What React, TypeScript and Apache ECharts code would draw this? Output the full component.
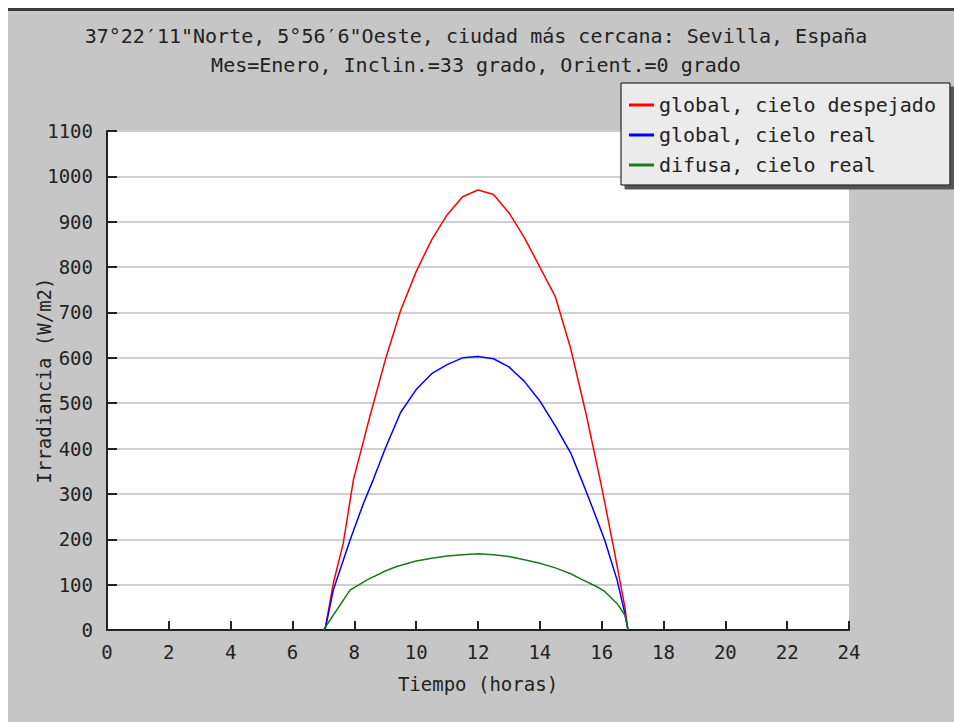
import React, { useEffect, useRef } from "react";
import * as echarts from "echarts";

const titleLines = [
  "37°22′11\"Norte, 5°56′6\"Oeste, ciudad más cercana: Sevilla, España",
  "Mes=Enero, Inclin.=33 grado, Orient.=0 grado",
];
const xAxisName = "Tiempo (horas)";
const yAxisName = "Irradiancia (W/m2)";

const seriesNames = ["global, cielo despejado", "global, cielo real", "difusa, cielo real"];
const seriesColors = ["#ff0000", "#0000ff", "#1a7a1a"];

const hoursClear = [7.05, 7.32, 7.64, 7.97, 8.5, 9, 9.5, 10, 10.5, 11, 11.5, 12, 12.5, 13, 13.5, 14, 14.5, 15, 15.5, 16, 16.38, 16.75, 16.85];
const globalClear = [0, 103, 191, 331, 470, 595, 705, 790, 860, 915, 955, 970, 960, 920, 865, 800, 735, 620, 475, 315, 184, 51, 0];

const hoursReal = [7.05, 7.32, 7.86, 8.3, 8.61, 9, 9.5, 10, 10.5, 11, 11.5, 12, 12.5, 13, 13.5, 14, 14.5, 15, 15.35, 15.7, 16.1, 16.5, 16.75, 16.85];
const globalReal = [0, 88, 198, 280, 331, 400, 480, 530, 565, 585, 600, 603, 598, 580, 548, 505, 450, 390, 331, 270, 198, 110, 37, 0];

const hoursDiffuse = [7.0, 7.86, 8.4, 9, 9.37, 10, 10.5, 11, 11.5, 12, 12.5, 13, 13.5, 14, 14.5, 15, 15.4, 15.8, 16.1, 16.5, 16.75, 16.86];
const diffuseReal = [0, 88, 110, 130, 140, 152, 158, 163, 166, 168, 166, 162, 155, 147, 137, 124, 110, 97, 85, 58, 33, 0];

const FONT = "'DejaVu Sans Mono', 'Liberation Mono', monospace";

export default function App() {
  const ref = useRef<HTMLDivElement>(null);
  useEffect(() => {
    if (!ref.current) return;
    const chart = echarts.init(ref.current, undefined, { renderer: "svg" });
    const xs = [hoursClear, hoursReal, hoursDiffuse];
    const ys = [globalClear, globalReal, diffuseReal];
    chart.setOption({
      animation: false,
      backgroundColor: "#c6c6c6",
      textStyle: { fontFamily: FONT },
      graphic: titleLines.map((t, i) => ({
        type: "text",
        x: 468,
        y: 25 + i * 29,
        style: {
          text: t,
          fontFamily: FONT,
          fontSize: 20,
          fill: "#222",
          textAlign: "center",
          textVerticalAlign: "middle",
        },
      })),
      grid: {
        left: 99,
        top: 120,
        width: 742,
        height: 499,
        outerBoundsMode: "none",
        containLabel: false,
        show: true,
        backgroundColor: "#ffffff",
        borderWidth: 0,
      },
      legend: {
        orient: "vertical",
        left: 613,
        top: 72,
        padding: [12, 14, 10, 8],
        itemGap: 10,
        itemWidth: 25,
        itemHeight: 3,
        icon: "rect",
        backgroundColor: "#ebebeb",
        borderColor: "#000",
        borderWidth: 1,
        shadowColor: "#555",
        shadowOffsetX: 4,
        shadowOffsetY: 4,
        shadowBlur: 0,
        textStyle: { fontFamily: FONT, fontSize: 20, color: "#222", lineHeight: 20 },
        data: seriesNames,
      },
      xAxis: {
        type: "value",
        min: 0,
        max: 24,
        interval: 2,
        name: xAxisName,
        nameLocation: "middle",
        nameGap: 44,
        nameMoveOverlap: false,
        nameTextStyle: { fontFamily: FONT, fontSize: 19, color: "#222" },
        axisLine: { show: true, lineStyle: { color: "#222", width: 2 } },
        axisTick: { show: true, inside: true, length: 9, lineStyle: { color: "#222", width: 2 } },
        axisLabel: { margin: 12, fontFamily: FONT, fontSize: 19, color: "#222", formatter: (v: number) => String(v) },
        splitLine: { show: false },
      },
      yAxis: {
        type: "value",
        min: 0,
        max: 1100,
        interval: 100,
        name: yAxisName,
        nameLocation: "middle",
        nameGap: 54,
        nameMoveOverlap: false,
        nameTextStyle: { fontFamily: FONT, fontSize: 19, color: "#222" },
        axisLine: { show: true, lineStyle: { color: "#222", width: 2 } },
        axisTick: { show: true, inside: true, length: 10, lineStyle: { color: "#222", width: 2 } },
        axisLabel: { margin: 14, fontFamily: FONT, fontSize: 19, color: "#222", formatter: (v: number) => String(v) },
        splitLine: { show: true, lineStyle: { color: "#cfcfcf", width: 2 } },
      },
      series: seriesNames.map((name, k) => ({
        name,
        type: "line",
        showSymbol: false,
        symbol: "none",
        smooth: false,
        color: seriesColors[k],
        lineStyle: { color: seriesColors[k], width: 1.5 },
        data: xs[k].map((h, i) => [h, ys[k][i]]),
      })),
    });
    return () => chart.dispose();
  }, []);
  return (
    <div
      style={{
        position: "fixed",
        left: 8,
        top: 8,
        width: 946,
        height: 714,
        boxSizing: "border-box",
        borderTop: "3px solid #3a3a3a",
        background: "#c6c6c6",
      }}
    >
      <div ref={ref} style={{ width: 946, height: 711 }} />
    </div>
  );
}
